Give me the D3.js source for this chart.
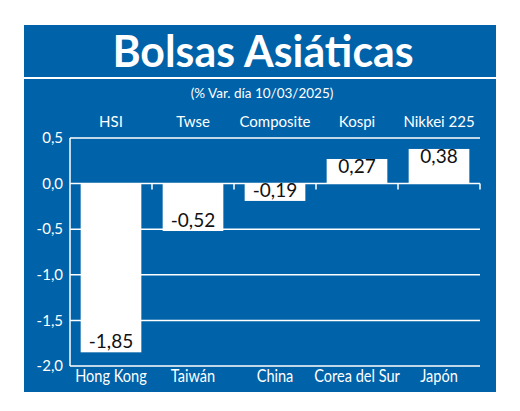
<!DOCTYPE html>
<html>
<head>
<meta charset="utf-8">
<script src="https://cdn.jsdelivr.net/npm/d3@7"></script>
<style>
    body { margin: 0; background: #fff; }
    svg text { font-family: Lato, "Open Sans", sans-serif; }
</style>
</head>
<body>
<div id="chart"></div>
<script>
const indices = ["HSI", "Twse", "Composite", "Kospi", "Nikkei 225"];
const countries = ["Hong Kong", "Taiwán", "China", "Corea del Sur", "Japón"];
const changes = [-1.85, -0.52, -0.19, 0.27, 0.38];
const yTicks = [0.5, 0, -0.5, -1, -1.5, -2];

const title = "Bolsas Asiáticas";
const subtitle = "(% Var. día 10/03/2025)";

const buildChart = element => {
    const width = 520;
    const height = 411;
    const blue = "#0062a8";

    const panel = { left: 24, top: 25, right: 496, bottom: 392 };
    const titleBandBottom = 77;
    const plot = { left: 70, right: 480, top: 138, bottom: 366 };

    const svg = d3.select(element)
        .append("svg")
        .attr("width", width)
        .attr("height", height);

    svg.append("rect")
        .attr("x", panel.left)
        .attr("y", panel.top)
        .attr("width", panel.right - panel.left)
        .attr("height", panel.bottom - panel.top)
        .attr("fill", blue);

    // white rule under the title
    svg.append("rect")
        .attr("x", panel.left)
        .attr("y", titleBandBottom)
        .attr("width", panel.right - panel.left)
        .attr("height", 2)
        .attr("fill", "#fff");

    svg.append("text")
        .attr("transform", "translate(263,67) scale(1.02,1.05)")
        .attr("text-anchor", "middle")
        .attr("fill", "#fff")
        .attr("font-size", 42)
        .attr("font-weight", 700)
        .text(title);

    svg.append("text")
        .attr("x", 262)
        .attr("y", 98)
        .attr("text-anchor", "middle")
        .attr("fill", "#fff")
        .attr("font-size", 13.5)
        .text(subtitle);

    const x = d3.scaleBand()
        .domain(countries)
        .range([plot.left, plot.right])
        .paddingInner(0.26)
        .paddingOuter(0.13);

    const y = d3.scaleLinear()
        .domain([-2, 0.5])
        .range([plot.bottom, plot.top]);

    const fmt = (v, digits) => d3.format("." + digits + "f")(v).replace("−", "-").replace(".", ",");

    // grid lines
    svg.append("g")
        .selectAll("line")
        .data(yTicks)
        .join("line")
        .attr("x1", plot.left)
        .attr("x2", plot.right)
        .attr("y1", d => y(d))
        .attr("y2", d => y(d))
        .attr("stroke", "#fff")
        .attr("stroke-width", 1.5);

    svg.append("line")
        .attr("x1", plot.left)
        .attr("x2", plot.left)
        .attr("y1", plot.top)
        .attr("y2", plot.bottom)
        .attr("stroke", "#fff")
        .attr("stroke-width", 1.5);

    // small ticks on the zero line at band boundaries
    const step = x.step();
    svg.append("g")
        .selectAll("line")
        .data(countries)
        .join("line")
        .attr("x1", (d, i) => plot.left + step * (i + 1))
        .attr("x2", (d, i) => plot.left + step * (i + 1))
        .attr("y1", y(0))
        .attr("y2", y(0) + 6)
        .attr("stroke", "#fff")
        .attr("stroke-width", 1.5);

    svg.append("g")
        .selectAll("text")
        .data(yTicks)
        .join("text")
        .attr("x", plot.left - 7)
        .attr("y", d => y(d))
        .attr("dy", "0.35em")
        .attr("text-anchor", "end")
        .attr("fill", "#fff")
        .attr("font-size", 15)
        .text(d => fmt(d, 1));

    // bars
    svg.append("g")
        .selectAll("rect")
        .data(changes)
        .join("rect")
        .attr("x", (d, i) => x(countries[i]))
        .attr("width", x.bandwidth())
        .attr("y", d => y(Math.max(0, d)))
        .attr("height", d => Math.abs(y(d) - y(0)))
        .attr("fill", "#fff");

    svg.append("g")
        .selectAll("text")
        .data(changes)
        .join("text")
        .attr("x", (d, i) => x(countries[i]) + x.bandwidth() / 2)
        .attr("y", d => d < 0 ? y(d) - 4 : y(d) + 14)
        .attr("text-anchor", "middle")
        .attr("fill", "#111")
        .attr("font-size", 19)
        .text(d => fmt(d, 2));

    // index names above the plot
    svg.append("g")
        .selectAll("text")
        .data(indices)
        .join("text")
        .attr("x", (d, i) => x(countries[i]) + x.bandwidth() / 2)
        .attr("y", 127)
        .attr("text-anchor", "middle")
        .attr("fill", "#fff")
        .attr("font-size", 15)
        .text(d => d);

    // country names below the plot, slightly condensed
    svg.append("g")
        .selectAll("text")
        .data(countries)
        .join("text")
        .attr("transform", d => `translate(${x(d) + x.bandwidth() / 2},382) scale(0.91,1.05)`)
        .attr("text-anchor", "middle")
        .attr("fill", "#fff")
        .attr("font-size", 16)
        .text(d => d);
}

buildChart(document.getElementById("chart"));
</script>
</body>
</html>
